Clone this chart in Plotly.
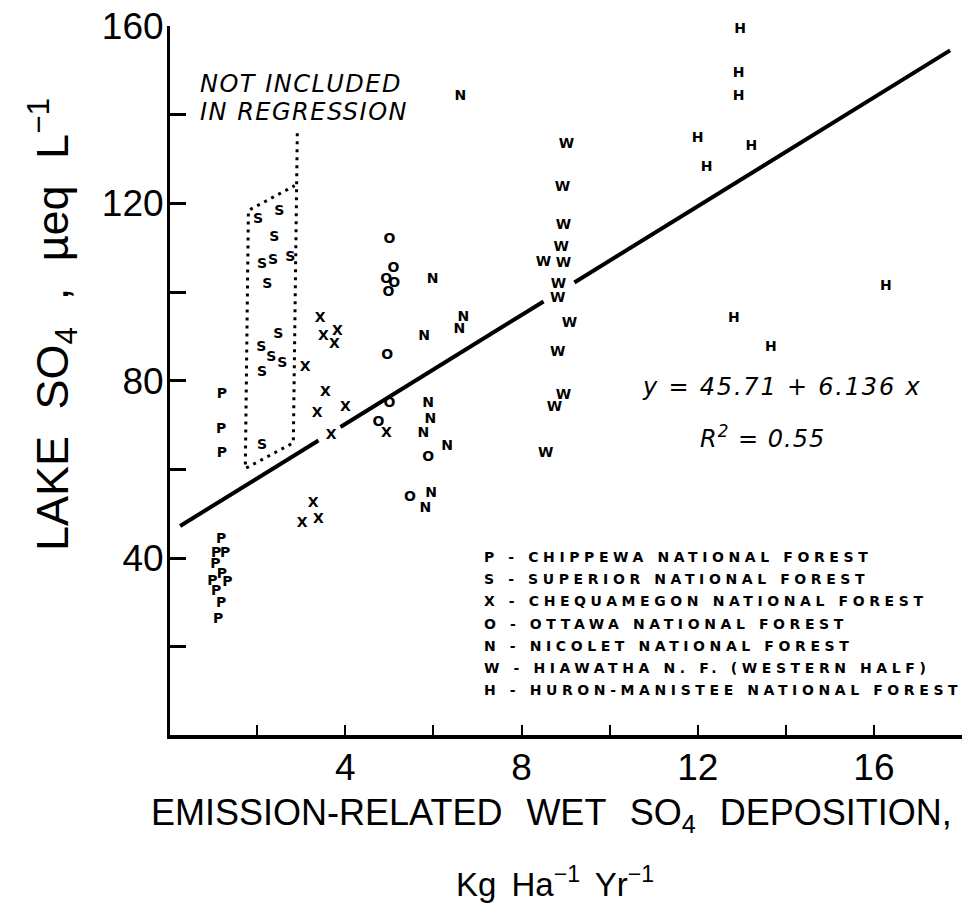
import plotly.graph_objects as go

# ---------------- data ----------------
p_x = [1.20, 1.18, 1.20, 1.18, 1.07, 1.27, 1.05, 1.20, 0.98, 1.32, 1.07, 1.18, 1.11]
p_y = [76.8, 68.9, 63.7, 44.3, 41.1, 41.1, 38.6, 36.4, 34.8, 34.4, 32.5, 29.8, 26.2]

s_x = [2.02, 2.50, 2.39, 2.11, 2.36, 2.75, 2.23, 2.48, 2.09, 2.32, 2.57, 2.11, 2.11]
s_y = [116.4, 118.2, 112.3, 106.2, 107.1, 107.8, 101.7, 90.4, 87.5, 85.2, 83.8, 81.8, 65.3]

x_x = [3.43, 3.50, 3.82, 3.75, 3.09, 3.55, 3.36, 4.00, 3.68, 3.27, 3.02, 3.39, 4.93]
x_y = [94.0, 89.9, 91.1, 88.1, 82.9, 77.3, 72.5, 73.9, 67.6, 52.2, 47.9, 48.8, 68.0]

o_x = [5.00, 5.09, 4.93, 5.11, 4.98, 4.95, 5.00, 4.75, 5.88, 5.47]
o_y = [111.9, 105.3, 102.8, 101.9, 99.9, 85.6, 74.8, 70.5, 62.6, 53.6]

n_x = [6.61, 5.98, 6.68, 6.59, 5.79, 5.88, 5.93, 5.77, 6.31, 5.95, 5.82]
n_y = [144.2, 102.8, 94.2, 91.5, 89.9, 74.8, 71.2, 68.0, 65.1, 54.5, 51.1]

w_x = [9.02, 8.93, 8.95, 8.90, 8.50, 8.95, 8.84, 8.82, 9.09, 8.82, 8.95, 8.75, 8.55]
w_y = [133.3, 123.6, 115.0, 110.1, 106.7, 106.4, 101.7, 98.5, 92.9, 86.3, 76.6, 73.9, 63.5]

h_x = [12.96, 12.93, 12.93, 12.00, 12.20, 13.22, 12.82, 13.66, 16.27]
h_y = [159.3, 149.2, 144.0, 134.7, 128.1, 132.9, 94.0, 87.5, 101.2]

series = [
    ("P", p_x, p_y), ("S", s_x, s_y), ("X", x_x, x_y), ("O", o_x, o_y),
    ("N", n_x, n_y), ("W", w_x, w_y), ("H", h_x, h_y),
]

legend_labels = [
    "P - CHIPPEWA NATIONAL FOREST",
    "S - SUPERIOR NATIONAL FOREST",
    "X - CHEQUAMEGON NATIONAL FOREST",
    "O - OTTAWA NATIONAL FOREST",
    "N - NICOLET NATIONAL FOREST",
    "W - HIAWATHA N. F. (WESTERN HALF)",
    "H - HURON-MANISTEE NATIONAL FOREST",
]

# regression y = a + b x, drawn in three pieces (broken around symbols)
reg_a = 45.71
reg_b = 6.136
reg_segments = [(0.25, 3.39), (3.89, 8.50), (9.20, 17.73)]

# dotted enclosure "NOT INCLUDED IN REGRESSION"
box_x = [2.91, 2.82, 1.73, 1.80, 2.85]
box_y = [135.8, 66.0, 60.2, 118.4, 124.0]

y_major_ticks = [40, 80, 120, 160]
x_major_ticks = [4, 8, 12, 16]

# ---------------- figure ----------------
W, H = 965, 914
ML, MR, MT, MB = 170, 3, 26, 179
PW, PH = W - ML - MR, H - MT - MB


def paper_x(px):
    return (px - ML) / PW


def paper_y(py):
    return (H - MB - py) / PH


fig = go.Figure()

# regression line
rx, ry = [], []
for a, b in reg_segments:
    rx += [a, b, None]
    ry += [reg_a + reg_b * a, reg_a + reg_b * b, None]
fig.add_trace(go.Scatter(x=rx, y=ry, mode="lines",
                         line=dict(color="black", width=4),
                         hoverinfo="skip", showlegend=False))

# dotted enclosure
fig.add_trace(go.Scatter(x=box_x, y=box_y, mode="lines",
                         line=dict(color="black", width=3, dash="3px,5px"),
                         hoverinfo="skip", showlegend=False))

# symbol series
for sym, xs, ys in series:
    fig.add_trace(go.Scatter(
        x=xs, y=ys, mode="text", text=[sym] * len(xs),
        textposition="middle center", cliponaxis=False,
        textfont=dict(family="DejaVu Sans", size=14, color="black", weight="bold"),
        name=sym, showlegend=False))

ann = []
# axis titles
ann.append(dict(xref="paper", yref="paper", x=paper_x(52), y=paper_y(325),
                text="<span style='word-spacing:14px'>LAKE SO<sub>4</sub> , µeq L<sup>−1</sup></span>",
                textangle=-90,
                showarrow=False, xanchor="center", yanchor="middle",
                font=dict(family="Liberation Sans", size=45, color="black")))
ann.append(dict(xref="paper", yref="paper", x=paper_x(551), y=paper_y(815),
                text="<span style='word-spacing:14px'>EMISSION-RELATED WET SO<sub>4</sub> DEPOSITION,</span>",
                showarrow=False, xanchor="center", yanchor="middle",
                font=dict(family="Liberation Sans", size=36, color="black")))
ann.append(dict(xref="paper", yref="paper", x=paper_x(555), y=paper_y(882),
                text="<span style='word-spacing:6px'>Kg Ha<sup>−1</sup> Yr<sup>−1</sup></span>",
                showarrow=False, xanchor="center", yanchor="middle",
                font=dict(family="Liberation Sans", size=33, color="black")))

# note
ann.append(dict(xref="paper", yref="paper", x=paper_x(198), y=paper_y(84),
                text="<i><span style='letter-spacing:1.5px'>NOT INCLUDED</span></i>",
                showarrow=False, xanchor="left", yanchor="middle",
                font=dict(family="DejaVu Sans", size=24, color="black")))
ann.append(dict(xref="paper", yref="paper", x=paper_x(198), y=paper_y(112),
                text="<i><span style='letter-spacing:1.5px'>IN REGRESSION</span></i>",
                showarrow=False, xanchor="left", yanchor="middle",
                font=dict(family="DejaVu Sans", size=24, color="black")))

# equation
ann.append(dict(xref="paper", yref="paper", x=paper_x(640), y=paper_y(387),
                text="<i><span style='letter-spacing:1.8px'>y = 45.71 + 6.136 x</span></i>",
                showarrow=False, xanchor="left", yanchor="middle",
                font=dict(family="DejaVu Sans", size=24, color="black")))
ann.append(dict(xref="paper", yref="paper", x=paper_x(698), y=paper_y(437),
                text="<i><span style='letter-spacing:1px'>R<sup>2</sup> = 0.55</span></i>",
                showarrow=False, xanchor="left", yanchor="middle",
                font=dict(family="DejaVu Sans", size=24, color="black")))

# legend block
for i, lab in enumerate(legend_labels):
    ann.append(dict(xref="paper", yref="paper", x=paper_x(482), y=paper_y(557 + i * 22.2),
                    text="<b><span style='letter-spacing:4.6px'>" + lab + "</span></b>",
                    showarrow=False, xanchor="left", yanchor="middle",
                    font=dict(family="DejaVu Sans", size=14, color="black")))

fig.update_layout(
    width=W, height=H,
    margin=dict(l=ML, r=MR, t=MT, b=MB, pad=0),
    paper_bgcolor="white", plot_bgcolor="white",
    showlegend=False,
    annotations=ann,
    xaxis=dict(range=[0.02, 18.0], showgrid=False, zeroline=False,
               showline=True, linecolor="black", linewidth=4,
               ticks="inside", ticklen=10, tickwidth=2, tickcolor="black",
               tickvals=x_major_ticks, ticklabelstandoff=-3,
               minor=dict(dtick=2, tick0=0, ticks="inside", ticklen=10,
                          tickwidth=2, tickcolor="black", showgrid=False),
               tickfont=dict(family="Liberation Sans", size=37, color="black")),
    yaxis=dict(range=[0.1, 160], showgrid=False, zeroline=False,
               showline=True, linecolor="black", linewidth=3,
               ticks="inside", ticklen=16, tickwidth=3, tickcolor="black",
               tickvals=y_major_ticks, ticklabelstandoff=-4,
               minor=dict(dtick=20, tick0=0, ticks="inside", ticklen=16,
                          tickwidth=3, tickcolor="black", showgrid=False),
               tickfont=dict(family="Liberation Sans", size=37, color="black")),
)

fig.write_html("out.html")
